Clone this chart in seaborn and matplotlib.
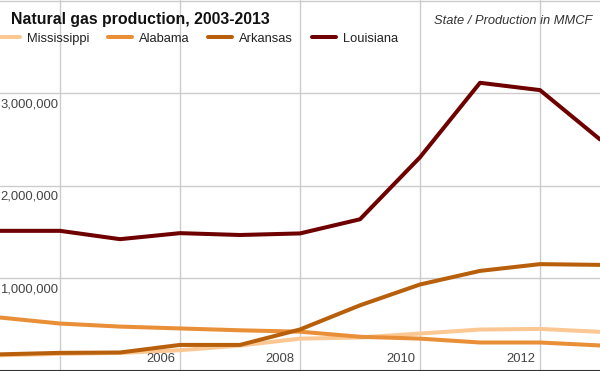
import matplotlib
matplotlib.use("Agg")
import matplotlib.pyplot as plt
import matplotlib.transforms as mtransforms
import seaborn as sns
import pandas as pd

years = [2003, 2004, 2005, 2006, 2007, 2008, 2009, 2010, 2011, 2012, 2013]
states = ["Mississippi", "Alabama", "Arkansas", "Louisiana"]
mississippi = [170000, 185000, 195000, 225000, 275000, 350000, 362000, 405000, 448000, 455000, 423000]
alabama = [578000, 513000, 480000, 460000, 440000, 425000, 370000, 350000, 308000, 308000, 276000]
arkansas = [180000, 196000, 200000, 282000, 282000, 449000, 710000, 935000, 1082000, 1155000, 1147000]
louisiana = [1515000, 1515000, 1425000, 1490000, 1470000, 1487000, 1640000, 2310000, 3115000, 3036000, 2503000]
colors = ["#fbc893", "#e98f37", "#b85f0b", "#6e0000"]
y_ticks = [1000000, 2000000, 3000000]
y_tick_labels = ["1,000,000", "2,000,000", "3,000,000"]
x_ticks = [2004, 2006, 2008, 2010, 2012]
x_tick_labels = ["", "2006", "2008", "2010", "2012"]

df = pd.DataFrame({
    "year": years * 4,
    "state": [s for s in states for _ in years],
    "value": mississippi + alabama + arkansas + louisiana,
})

sns.set_style("white")
plt.rcParams["font.family"] = ["Liberation Sans", "DejaVu Sans"]

fig = plt.figure(figsize=(6, 3.71), dpi=100)
ax = fig.add_axes([0, 0, 1, 1])

sns.lineplot(data=df, x="year", y="value", hue="state", hue_order=states,
             palette=colors, linewidth=2.9, ax=ax, legend=False)

ax.set_xlim(2003, 2013)
ax.set_ylim(0, 4010000)
ax.set_xticks(x_ticks)
ax.set_yticks(y_ticks + [4000000])
ax.set_xticklabels([])
ax.set_yticklabels([])
ax.tick_params(length=0)
ax.grid(True, color="#cccccc", linewidth=1.0)
ax.set_axisbelow(True)
ax.set_xlabel("")
ax.set_ylabel("")
for side in ["left", "right", "top"]:
    ax.spines[side].set_visible(False)
ax.spines["bottom"].set_color("#333333")
ax.spines["bottom"].set_linewidth(1.5)

# y tick labels inside plot, right-aligned just left of 2004 gridline, below gridline
tr_y = mtransforms.offset_copy(ax.transData, fig=fig, x=-2, y=-5, units="dots")
for v, lab in zip(y_ticks, y_tick_labels):
    ax.text(2004, v, lab, transform=tr_y, ha="right", va="top",
            fontsize=9.4, color="#444444")

# x tick labels inside plot at bottom, right-aligned to gridline
tr_x = mtransforms.blended_transform_factory(ax.transData, ax.transAxes)
tr_x = mtransforms.offset_copy(tr_x, fig=fig, x=-5, y=6, units="dots")
for v, lab in zip(x_ticks, x_tick_labels):
    if lab:
        ax.text(v, 0, lab, transform=tr_x, ha="right", va="bottom",
                fontsize=9.4, color="#444444")

fig.text(11 / 600, 1 - 24 / 371, "Natural gas production, 2003-2013",
         fontsize=11.4, fontweight="bold", color="#111111", ha="left", va="baseline")
fig.text(592 / 600, 1 - 24 / 371, "State / Production in MMCF",
         fontsize=9.3, style="italic", color="#333333", ha="right", va="baseline")

handles = [plt.Line2D([], [], color=c, linewidth=2.9) for c in colors]
leg = ax.legend(handles, states, ncol=4, loc="center left",
                bbox_to_anchor=(-4 / 600, 1 - 39 / 371), frameon=False,
                fontsize=9.3, handlelength=1.85, handletextpad=0.55,
                columnspacing=1.45, borderpad=0, borderaxespad=0)
for t in leg.get_texts():
    t.set_color("#222222")

fig.savefig("out.png", dpi=100)
